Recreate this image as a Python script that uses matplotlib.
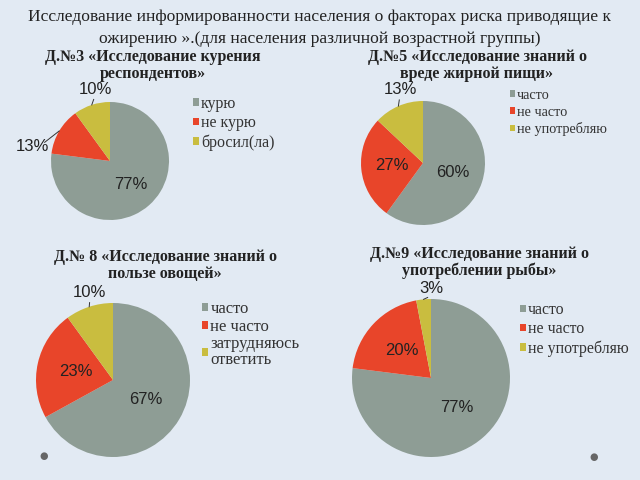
import numpy as np
import matplotlib.pyplot as plt

# данные диаграмм
titles = ["Д.№3 «Исследование курения\nреспондентов»",
          "Д.№5 «Исследование знаний о\nвреде жирной пищи»",
          "Д.№ 8 «Исследование знаний о\nпользе овощей»",
          "Д.№9 «Исследование знаний о\nупотреблении рыбы»"]
labels1 = ["курю", "не курю", "бросил(ла)"]
labels2 = ["часто", "не часто", "не употребляю"]
labels3 = ["часто", "не часто", "затрудняюсь\nответить"]
labels4 = ["часто", "не часто", "не употребляю"]
values1 = [77, 13, 10]
values2 = [60, 27, 13]
values3 = [67, 23, 10]
values4 = [77, 20, 3]

colors = ["#8e9d95", "#e8452a", "#c9bd3f"]
bg = "#e2eaf3"

W, H = 640, 480
fig = plt.figure(figsize=(6.4, 4.8), dpi=100, facecolor=bg)

fig.text(0.5, 1 - 17 / H, "Исследование информированности населения о факторах риска приводящие к",
         ha="center", va="center", fontsize=12.6, family="Liberation Serif", color="#222222")
fig.text(0.5, 1 - 39 / H, "ожирению ».(для населения различной возрастной группы)",
         ha="center", va="center", fontsize=12.6, family="Liberation Serif", color="#222222")

# раскладка: центр, радиус (пиксели), заголовок, легенда, подписи
layout = [
    dict(c=(110, 161), r=59, t=(153, 49), leg=(193, 96), lfs=11.5, ls=0.2, pd=0.53,
         out={1: (-1.31, 0.25), 2: (-0.25, 1.21)}),
    dict(c=(423, 163), r=62, t=(477, 49), leg=(510, 89), lfs=10.3, ls=0.25, pd=0.5,
         out={2: (-0.37, 1.19)}),
    dict(c=(113, 380), r=77, t=(165, 249), leg=(202, 301), lfs=12, ls=0.1, pd=0.5,
         out={2: (-0.30, 1.14)}),
    dict(c=(431, 378), r=79, t=(479, 246), leg=(520, 302), lfs=11.4, ls=0.2, pd=0.5,
         out={2: (0.0, 1.13)}),
]
all_values = [values1, values2, values3, values4]
all_labels = [labels1, labels2, labels3, labels4]

k = 1.6
for vals, labs, title, lay in zip(all_values, all_labels, titles, layout):
    cx, cy = lay["c"]
    r = lay["r"]
    side = 2 * r * k
    ax = fig.add_axes([(cx - r * k) / W, 1 - (cy + r * k) / H, side / W, side / H])
    wedges, _ = ax.pie(vals, colors=colors, startangle=90, counterclock=False,
                       radius=1, wedgeprops=dict(linewidth=0))
    ax.set_xlim(-k, k)
    ax.set_ylim(-k, k)
    ax.set_aspect("equal")
    ax.axis("off")
    total = sum(vals)
    for i, (w, v) in enumerate(zip(wedges, vals)):
        ang = np.deg2rad((w.theta1 + w.theta2) / 2)
        txt = f"{round(100 * v / total)}%"
        if i in lay["out"]:
            lx, ly = lay["out"][i]
            ex, ey = np.cos(ang), np.sin(ang)
            ax.plot([ex, ex + (lx - ex) * 0.55], [ey, ey + (ly - ey) * 0.55 - 0.05],
                    color="#333333", lw=0.7)
            ax.text(lx, ly, txt, ha="center", va="center", fontsize=12,
                    family="Liberation Sans", color="#222222")
        else:
            d = lay["pd"]
            ax.text(d * np.cos(ang), d * np.sin(ang), txt, ha="center", va="center",
                    fontsize=12, family="Liberation Sans", color="#222222")
    lx, ly = lay["leg"]
    leg = ax.legend(wedges, labs, loc="upper left", bbox_to_anchor=(lx / W, 1 - ly / H),
                    bbox_transform=fig.transFigure, frameon=False, handlelength=0.35,
                    handleheight=0.35, handletextpad=0.15, labelspacing=lay["ls"],
                    borderpad=0, borderaxespad=0,
                    prop=dict(family="Liberation Serif", size=lay["lfs"]),
                    labelcolor="#333333")
    for t in leg.get_texts():
        t.set_linespacing(1.0)
    tx, ty = lay["t"]
    fig.text(tx / W, 1 - ty / H, title, ha="center", va="top", fontsize=11.5,
             fontweight="bold", family="Liberation Serif", color="#222222",
             linespacing=1.05)

# декоративные точки
fig.text(44 / W, 1 - 456 / H, "●", ha="center", va="center", fontsize=7, color="#666666")
fig.text(594 / W, 1 - 457 / H, "●", ha="center", va="center", fontsize=7, color="#666666")

fig.savefig("out.png", dpi=100, facecolor=bg)
